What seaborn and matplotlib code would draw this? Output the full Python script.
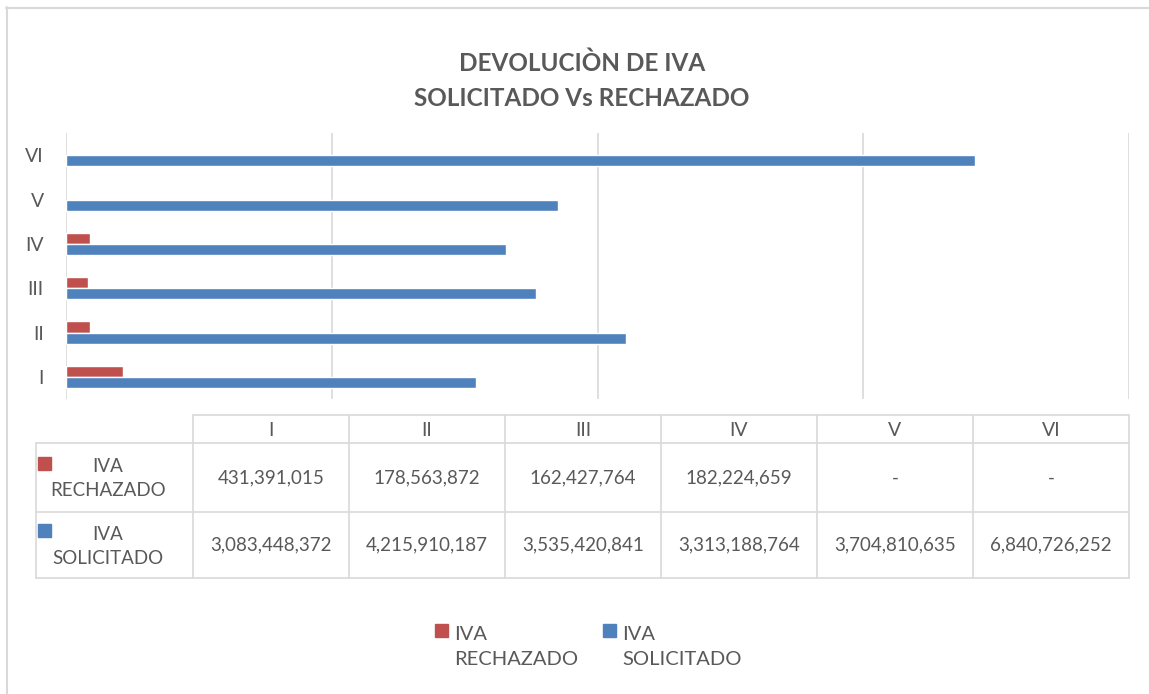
import numpy as np
import pandas as pd
import matplotlib.pyplot as plt
import seaborn as sns
from matplotlib.patches import Rectangle
from matplotlib.lines import Line2D

# datos
periodos = ['I', 'II', 'III', 'IV', 'V', 'VI']
iva_rechazado = [431391015, 178563872, 162427764, 182224659, np.nan, np.nan]
iva_solicitado = [3083448372, 4215910187, 3535420841, 3313188764, 3704810635, 6840726252]
series = ['IVA RECHAZADO', 'IVA SOLICITADO']
etiquetas = ['IVA\nRECHAZADO', 'IVA\nSOLICITADO']
colores = ['#C0504D', '#4F81BD']

df = pd.DataFrame({
    'periodo': periodos * 2,
    'serie': [series[0]] * len(periodos) + [series[1]] * len(periodos),
    'valor': iva_rechazado + iva_solicitado,
})

sns.set_theme(style='white')
plt.rcParams['font.family'] = ['Lato', 'DejaVu Sans']
gris = '#595959'
linea = '#d9d9d9'

W, H = 1149, 694
fig = plt.figure(figsize=(W / 100, H / 100), dpi=100)

def fx(px):
    return px / W

def fy(py):
    return 1 - py / H

ax = fig.add_axes([fx(66), fy(399), fx(1129) - fx(66), (399 - 133) / H])
sns.barplot(data=df, y='periodo', x='valor', hue='serie', orient='h',
            order=periodos[::-1], hue_order=series,
            palette=dict(zip(series, colores)), saturation=1,
            width=0.5, gap=0, legend=False, ax=ax)

ax.set_xlim(0, 8e9)
ax.set_ylim(len(periodos) - 0.5, -0.5)
ax.set_xticks(np.arange(0, 8.01e9, 2e9))
ax.set_xticklabels([])
ax.grid(axis='x', color=linea, lw=1.2)
ax.grid(axis='y', visible=False)
ax.set_axisbelow(True)
for s in ax.spines.values():
    s.set_visible(False)
ax.set_xlabel('')
ax.set_ylabel('')
ax.tick_params(length=0)
ax.tick_params(axis='y', pad=16, labelsize=14, labelcolor=gris)

# titulo
fig.text(fx(582), fy(63), 'DEVOLUCIÒN DE IVA', ha='center', va='center',
         fontsize=17.5, fontweight='bold', color=gris)
fig.text(fx(582), fy(98), 'SOLICITADO Vs RECHAZADO', ha='center', va='center',
         fontsize=17.5, fontweight='bold', color=gris)

# tabla de datos
def hline(x0, x1, y):
    fig.add_artist(Line2D([fx(x0), fx(x1)], [fy(y), fy(y)], color=linea, lw=1.2))

def vline(x, y0, y1):
    fig.add_artist(Line2D([fx(x), fx(x)], [fy(y0), fy(y1)], color=linea, lw=1.2))

cols = [193 + 156 * i for i in range(7)]
hline(193, 1129, 415)
for y in [443, 512, 578]:
    hline(36, 1129, y)
vline(36, 443, 578)
for x in cols:
    vline(x, 415, 578)

for i, p in enumerate(periodos):
    cx = (cols[i] + cols[i + 1]) / 2
    fig.text(fx(cx), fy(430), p, ha='center', va='center', fontsize=14, color=gris)

filas_y = [478, 545]
for j, vals in enumerate([iva_rechazado, iva_solicitado]):
    for i, v in enumerate(vals):
        cx = (cols[i] + cols[i + 1]) / 2
        txt = '-' if np.isnan(v) else f'{v:,.0f}'
        fig.text(fx(cx), fy(filas_y[j]), txt, ha='center', va='center',
                 fontsize=13.5, color=gris)
    fig.text(fx(108), fy(filas_y[j] + 1), etiquetas[j], ha='center', va='center',
             multialignment='center', linespacing=1.5, fontsize=13.5, color=gris)
    fig.add_artist(Rectangle((fx(38), fy(filas_y[j] - 8)), 13 / W, 13 / H,
                             transform=fig.transFigure, color=colores[j]))

# leyenda
leg_x = [435, 603]
for j in range(2):
    fig.add_artist(Rectangle((fx(leg_x[j]), fy(637)), 13 / W, 13 / H,
                             transform=fig.transFigure, color=colores[j]))
    fig.text(fx(leg_x[j] + 19), fy(647), etiquetas[j], ha='left', va='center',
             multialignment='left', linespacing=1.55, fontsize=14.5, color=gris)

# borde
fig.add_artist(Line2D([fx(6), fx(W)], [fy(7.5), fy(7.5)], color=linea, lw=1.5))
fig.add_artist(Line2D([fx(6.5), fx(6.5)], [fy(7), fy(H)], color=linea, lw=1.5))

fig.savefig('out.png', dpi=100, facecolor='white')
